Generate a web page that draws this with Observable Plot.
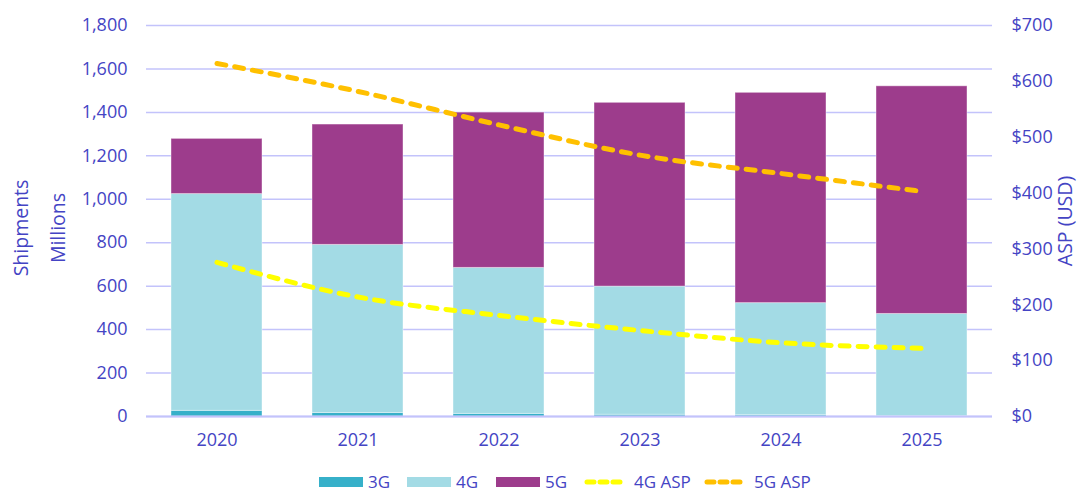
<!DOCTYPE html>
<html>
<head>
<meta charset="utf-8">
<script src="https://cdn.jsdelivr.net/npm/d3@7"></script>
<script src="https://cdn.jsdelivr.net/npm/@observablehq/plot@0.6"></script>
<style>
  body { margin: 0; background: #fff; font-family: "Open Sans", "Noto Sans", sans-serif; overflow: hidden; }
  #wrap { position: relative; width: 1083px; height: 491px; }
  #legend { position: absolute; left: 0; top: 473px; width: 1083px; height: 18px; }
  .lg { position: absolute; top: 0; display: flex; align-items: center; font-size: 17px; line-height: 18px; color: #4444c4; height: 18px; }
  .lg span { line-height: 18px; }
</style>
</head>
<body>
<div id="wrap"><div id="chart"></div><div id="legend"></div></div>
<script>
const years = ["2020", "2021", "2022", "2023", "2024", "2025"];
const g3 = [26, 16, 12, 8, 6, 2];
const g4 = [998, 774, 672, 590, 516, 470];
const g5 = [254, 554, 715, 846, 968, 1048];
const asp4 = [276, 214, 181, 154, 132, 122];
const asp5 = [632, 582, 522, 468, 435, 403];
const leftTicks = [0, 200, 400, 600, 800, 1000, 1200, 1400, 1600, 1800];
const rightTicks = [0, 100, 200, 300, 400, 500, 600, 700];

const techs = ["3G", "4G", "5G"];
const colors = {"3G": "#36b0c9", "4G": "#a3dbe5", "5G": "#9d3c8c"};
const series = {"3G": g3, "4G": g4, "5G": g5};
const bars = [];
years.forEach((y, i) => techs.forEach(t => bars.push({year: y, tech: t, value: series[t][i]})));

const K = 1800 / 700;
const lines = [];
years.forEach((y, i) => {
  lines.push({year: y, key: "4G ASP", v: asp4[i] * K});
  lines.push({year: y, key: "5G ASP", v: asp5[i] * K});
});

const textColor = "#4444c4";
const gridColor = "#c3c3fb";

const plot = Plot.plot({
  width: 1083,
  height: 466,
  marginLeft: 146,
  marginRight: 91,
  marginTop: 25,
  marginBottom: 50,
  style: {fontFamily: "'Open Sans', 'Noto Sans', sans-serif", fontSize: "18px", color: textColor, background: "white"},
  x: {domain: years, paddingInner: 0.355, paddingOuter: 0.1775, label: null},
  y: {domain: [0, 1800], label: null},
  color: {domain: techs, range: techs.map(t => colors[t])},
  marks: [
    Plot.ruleY(leftTicks, {stroke: gridColor, strokeWidth: 1.5}),
    Plot.barY(bars, {x: "year", y: "value", fill: "tech", order: techs, stroke: "#ffffff", strokeOpacity: 0.4, strokeWidth: 1}),
    Plot.line(lines.filter(d => d.key === "4G ASP"), {x: "year", y: "v", stroke: "#ffff00", strokeWidth: 5, strokeDasharray: "9,9", strokeLinecap: "round", curve: "monotone-x"}),
    Plot.line(lines.filter(d => d.key === "5G ASP"), {x: "year", y: "v", stroke: "#ffc000", strokeWidth: 5, strokeDasharray: "9,9", strokeLinecap: "round", curve: "monotone-x"}),
    Plot.axisY(leftTicks, {anchor: "left", tickSize: 0, tickPadding: 19, tickFormat: d => d3.format(",")(d), fill: textColor, fontSize: 18}),
    Plot.axisY(rightTicks.map(v => v * K), {anchor: "right", tickSize: 0, tickPadding: 19, tickFormat: d => "$" + Math.round(d / K), fill: textColor, fontSize: 18, textAnchor: "start"}),
    Plot.axisX({tickSize: 0, tickPadding: 17, fill: textColor, fontSize: 18}),
    Plot.ruleY([0], {stroke: gridColor, strokeWidth: 2})
  ]
});
document.getElementById("chart").appendChild(plot);

const svg = d3.select(plot);
const titles = [
  {t: "Shipments", x: 28, y: 228},
  {t: "Millions", x: 65, y: 228},
  {t: "ASP (USD)", x: 1072, y: 221}
];
titles.forEach(d => {
  svg.append("text")
    .attr("transform", `translate(${d.x},${d.y}) rotate(-90)`)
    .attr("text-anchor", "middle")
    .attr("fill", textColor)
    .style("font-size", "19.5px")
    .text(d.t);
});

const legendItems = [
  {label: "3G", type: "box", color: colors["3G"], x: 319},
  {label: "4G", type: "box", color: colors["4G"], x: 407},
  {label: "5G", type: "box", color: colors["5G"], x: 496},
  {label: "4G ASP", type: "dash", color: "#ffff00", x: 584},
  {label: "5G ASP", type: "dash", color: "#ffc000", x: 704}
];
const leg = document.getElementById("legend");
legendItems.forEach(it => {
  const div = document.createElement("div");
  div.className = "lg";
  div.style.left = it.x + "px";
  const sw = it.type === "box"
    ? `<svg width="44" height="12" style="margin-right:5px"><rect x="0" y="1" width="44" height="10" fill="${it.color}"/></svg>`
    : `<svg width="48" height="12" style="margin-right:2px"><line x1="3" y1="6" x2="36" y2="6" stroke="${it.color}" stroke-width="5" stroke-dasharray="7,6" stroke-linecap="round"/></svg>`;
  div.innerHTML = sw + `<span>${it.label}</span>`;
  leg.appendChild(div);
});
</script>
</body>
</html>
